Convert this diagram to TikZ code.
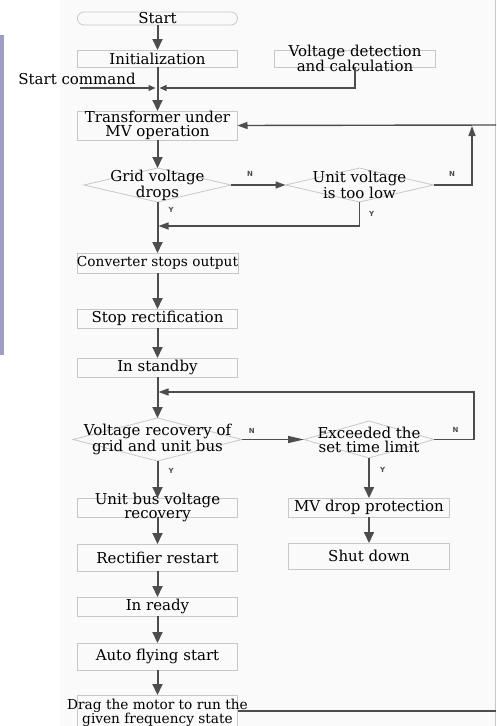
\documentclass[tikz,border=0pt]{standalone}
\usepackage{fontspec}
\setmainfont{DejaVu Serif}
\newfontfamily\ynfont{DejaVu Sans}
\usepackage{xcolor}
\usepackage{tikz}
\usetikzlibrary{positioning}
\usetikzlibrary{arrows.meta}
\usetikzlibrary{shapes.geometric}

\definecolor{linegray}{RGB}{77,77,77}
\definecolor{boxgray}{RGB}{200,200,200}
\definecolor{panelgray}{RGB}{250,250,250}
\definecolor{stripblue}{RGB}{160,158,200}

\begin{document}
\begin{tikzpicture}[
		x=1pt, y=1pt,
		font=\fontsize{15}{14}\selectfont,
		box/.style={rectangle, draw=boxgray, line width=0.8pt, minimum width=160pt, minimum height=19pt, inner xsep=0pt, inner ysep=0pt, outer sep=0pt, align=center},
		squeeze/.style={inner ysep=-6.5pt},
		narrow/.style={font=\fontsize{13.7}{14}\selectfont},
		term/.style={box, rounded corners=6.5pt, minimum height=13pt},
		dec/.style={diamond, draw=boxgray, line width=0.8pt, inner sep=0pt, outer sep=0pt},
		dtext/.style={align=center},
		arrow/.style={-{Triangle[length=11pt,width=10pt]}, line width=2pt, linegray},
		thin arrow/.style={-{Triangle[length=10pt,width=7pt]}, line width=1.4pt, linegray},
		long arrow/.style={-{Triangle[length=16pt,width=7pt]}, line width=1.4pt, linegray},
		small arrow/.style={-{Triangle[length=7pt,width=6pt]}, line width=1.2pt, linegray, shorten >=2pt},
		yn/.style={font=\ynfont\bfseries\fontsize{7}{8}\selectfont, inner sep=1pt}
	]

	\useasboundingbox (0,0) rectangle (496,-726);
	\fill[panelgray] (60,0) rectangle (496,-726);
	\draw[boxgray] (495.5,0) -- (495.5,-726);
	\fill[stripblue] (0,-35) rectangle (4,-355);

	% Main column
	\node[term] (start) at (157.5,-18.5) {Start};
	\node[box, minimum height=17pt, below=25pt of start] (init) {Initialization};
	\node[box, minimum height=29pt, below=44pt of init] (trans) {Transformer under\\MV operation};
	\node[dec, minimum width=147pt, minimum height=34pt, below=28pt of trans,
		label={[dtext]center:Grid voltage\\drops}] (grid) {};
	\node[box, narrow, minimum height=20pt, below=51pt of grid] (conv) {Converter stops output};
	\node[box, below=36pt of conv] (stop) {Stop rectification};
	\node[box, below=30pt of stop] (standby) {In standby};
	\node[dec, minimum width=169pt, minimum height=43pt, below=41pt of standby,
		label={[dtext]center:Voltage recovery of\\grid and unit bus}] (recov) {};
	\node[box, squeeze, below=37pt of recov] (unitbus) {Unit bus voltage\\recovery};
	\node[box, minimum height=27pt, below=27pt of unitbus] (rect) {Rectifier restart};
	\node[box, below=26pt of rect] (ready) {In ready};
	\node[box, minimum height=27pt, below=27pt of ready] (auto) {Auto flying start};
	\node[box, minimum height=32pt, below=25pt of auto,
		label={[dtext, narrow, yshift=-2pt]center:Drag the motor to run the\\given frequency state}] (drag) {};

	% Side nodes
	\node[box, squeeze, minimum width=161pt, minimum height=17pt, right=37pt of init] (volt) {Voltage detection\\and calculation};
	\node (cmd) at (77,-79) {Start command};
	\node[dec, minimum width=148pt, minimum height=34pt, right=54.5pt of grid,
		label={[dtext]center:Unit voltage\\is too low}] (unit) {};
	\node[dec, minimum width=130pt, minimum height=37pt, right=62pt of recov,
		label={[dtext]center:Exceeded the\\set time limit}] (exceed) {};
	\node[box, minimum width=161pt, below=40pt of exceed] (mvdrop) {MV drop protection};
	\node[box, minimum width=161pt, minimum height=26pt, below=26pt of mvdrop] (shut) {Shut down};

	% Helper points
	\coordinate (jn) at (init.south |- 0,-88);
	\coordinate (cmdin) at (80,-88);
	\coordinate (fbtop) at (496,-125);
	\coordinate (fbup) at (472,-125);
	\coordinate (ymerge) at (grid.south |- 0,-226);
	\coordinate (loopr) at (474,-392);
	\coordinate (loopin) at (standby.south |- loopr);
	\coordinate (fbbot) at (496,-711);

	% Main flow
	\draw[arrow] (start) -- (init);
	\draw[arrow] (init) -- (trans);
	\draw[small arrow] (cmdin) -- (jn);
	\draw[small arrow] (volt.south) |- (jn);
	\draw[arrow] (trans) -- (grid);
	\draw[arrow] (grid) -- (conv) node[yn, pos=.16, right=9pt] {Y};
	\draw[arrow] (conv) -- (stop);
	\draw[arrow] (stop) -- (standby);
	\draw[arrow] (standby) -- (recov);
	\draw[arrow] (recov) -- (unitbus) node[yn, pos=.27, right=9pt] {Y};
	\draw[arrow] (unitbus) -- (rect);
	\draw[arrow] (rect) -- (ready);
	\draw[arrow] (ready) -- (auto);
	\draw[arrow] (auto) -- (drag);
	\draw[arrow] (exceed) -- (mvdrop) node[yn, pos=.3, right=9pt] {Y};
	\draw[arrow] (mvdrop) -- (shut);

	% Branches and feedback
	\draw[thin arrow] (grid.east) -- (unit.west) node[yn, pos=.35, above=7pt] {N};
	\draw[thin arrow, shorten >=1pt] (unit.east) -| (fbup) node[yn, pos=.24, above=7pt] {N};
	\draw[thin arrow] (fbtop) -- (trans.east);
	\draw[thin arrow, shorten >=1pt] (unit.south) |- (ymerge) node[yn, pos=.25, right=8pt] {Y};
	\draw[long arrow] (recov.east) -- (exceed.west) node[yn, pos=.16, above=4pt] {N};
	\draw[thin arrow, shorten >=1pt] (exceed.east) -| (loopr) node[yn, pos=.27, above=5pt] {N} -- (loopin);
	\draw[line width=1.4pt, linegray] (drag) -- (fbbot);

\end{tikzpicture}
\end{document}
